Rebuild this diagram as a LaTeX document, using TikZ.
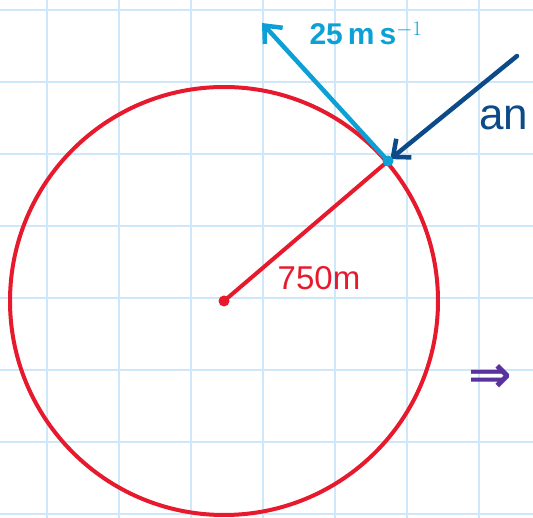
\documentclass[tikz,border=0pt]{standalone}
\usepackage{fontspec}
\setmainfont{Liberation Sans}
\newfontfamily\arrowfont{DejaVu Sans}
\usetikzlibrary{arrows.meta}
\definecolor{gridblue}{RGB}{206,232,250}
\definecolor{ringred}{RGB}{230,25,45}
\definecolor{velblue}{RGB}{12,160,215}
\definecolor{accblue}{RGB}{12,75,135}
\definecolor{markpurple}{RGB}{90,50,160}
\begin{document}
\begin{tikzpicture}[x=1pt,y=-1pt,line width=4pt,
  vec/.style={line width=4.5pt,-{Straight Barb[length=14pt,width=24pt]},line cap=round},
  lbl/.style={anchor=center,inner sep=0pt}]
\path[use as bounding box] (0,0) rectangle (533,518);
\foreach \gx in {47,119,...,479} \draw[gridblue,line width=1.5pt] (\gx,0) -- (\gx,518);
\foreach \gy in {10,82,...,514} \draw[gridblue,line width=1.5pt] (0,\gy) -- (533,\gy);
\node[circle,fill=ringred,inner sep=0pt,minimum size=11pt] (centre) at (224,301) {};
\coordinate (rim) at (388,161);
\coordinate (vtip) at (262,23);
\coordinate (atail) at (517,56);
\draw[ringred] (centre.center) circle[radius=214pt];
\draw[ringred] (centre.center) -- (rim);
\draw[velblue,vec] (rim) -- (vtip);
\draw[accblue,vec,shorten >=3pt] (atail) -- (rim);
\fill[velblue] (rim) circle[radius=5.5pt];
\node[lbl,text=velblue,font=\bfseries\fontsize{30}{34}\selectfont] (speed) at (366,33) {25\,m\,s$^{-1}$};
\node[lbl,text=ringred,font=\fontsize{33}{38}\selectfont] (radius) at (319,278) {750m};
\node[lbl,anchor=west,text=accblue,font=\fontsize{44}{50}\selectfont] (accel) at (477,118) {an};
\node[lbl,text=markpurple,font=\arrowfont\bfseries\fontsize{52}{56}\selectfont] (implies) at (490,378) {⇒};
\end{tikzpicture}
\end{document}
